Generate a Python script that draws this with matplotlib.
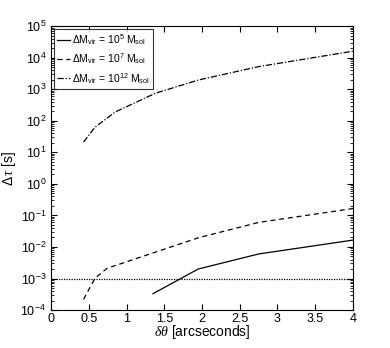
import matplotlib
matplotlib.use("Agg")
import matplotlib.pyplot as plt
import numpy as np
from matplotlib.ticker import LogLocator, NullFormatter

plt.rcParams['font.family'] = ['Liberation Sans', 'DejaVu Sans']
plt.rcParams['mathtext.fontset'] = 'custom'
plt.rcParams['mathtext.rm'] = 'Liberation Sans'
plt.rcParams['mathtext.it'] = 'Liberation Serif:italic'

# data
x_m5 = [1.35, 1.95, 2.75, 4.0]
y_m5 = [3.3e-4, 2.0e-3, 6.0e-3, 1.65e-2]
x_m7 = [0.43, 0.58, 0.74, 1.95, 2.75, 4.0]
y_m7 = [2.2e-4, 1.0e-3, 2.1e-3, 1.95e-2, 6.0e-2, 1.65e-1]
x_m12 = [0.43, 0.58, 0.85, 1.38, 1.95, 2.75, 4.0]
y_m12 = [21, 62, 190, 740, 1950, 5200, 16000]
threshold = 1e-3
labels = [r"$\Delta$M$_{\rm vir}$ = 10$^{5}$ M$_{\rm sol}$",
          r"$\Delta$M$_{\rm vir}$ = 10$^{7}$ M$_{\rm sol}$",
          r"$\Delta$M$_{\rm vir}$ = 10$^{12}$ M$_{\rm sol}$"]
xticks = [0, 0.5, 1, 1.5, 2, 2.5, 3, 3.5, 4]
xticklabels = ['0', '0.5', '1', '1.5', '2', '2.5', '3', '3.5', '4']

fig = plt.figure(figsize=(3.9, 3.48), dpi=100)
ax = fig.add_axes([0.131, 0.109, 0.774, 0.816])

ax.plot(x_m5, y_m5, color='black', linestyle='-', lw=0.9, label=labels[0])
ax.plot(x_m7, y_m7, color='black', linestyle=(0, (4, 3)), lw=0.9, label=labels[1])
ax.plot(x_m12, y_m12, color='black', linestyle=(0, (5, 1.5, 1, 1.5)), lw=0.9, label=labels[2])
ax.axhline(threshold, color='black', linestyle=(0, (1, 1)), lw=0.9)

ax.set_yscale('log')
ax.set_xlim(0, 4)
ax.set_ylim(1e-4, 1e5)
ax.set_xticks(xticks)
ax.set_xticklabels(xticklabels)
ax.yaxis.set_major_locator(LogLocator(base=10, numticks=20))
ax.yaxis.set_minor_locator(LogLocator(base=10, subs=np.arange(2, 10), numticks=20))
ax.yaxis.set_minor_formatter(NullFormatter())
ax.tick_params(which='both', direction='in', top=True, right=True, labelsize=9)
ax.tick_params(axis='x', pad=2)
ax.tick_params(which='major', length=4)
ax.tick_params(which='minor', length=2)

ax.set_xlabel(r"$\delta\theta$ [arcseconds]", fontsize=10, labelpad=-1)
ax.set_ylabel(r"$\Delta\,\tau$ [s]", fontsize=10, labelpad=2)

leg = ax.legend(loc='upper left', fontsize=7.5, frameon=True, fancybox=False,
                edgecolor='black', handlelength=1.2, handletextpad=0.2,
                borderaxespad=0.3, borderpad=0.3, labelspacing=0.45)
leg.get_frame().set_linewidth(0.8)

fig.savefig('out.png', dpi=100)
